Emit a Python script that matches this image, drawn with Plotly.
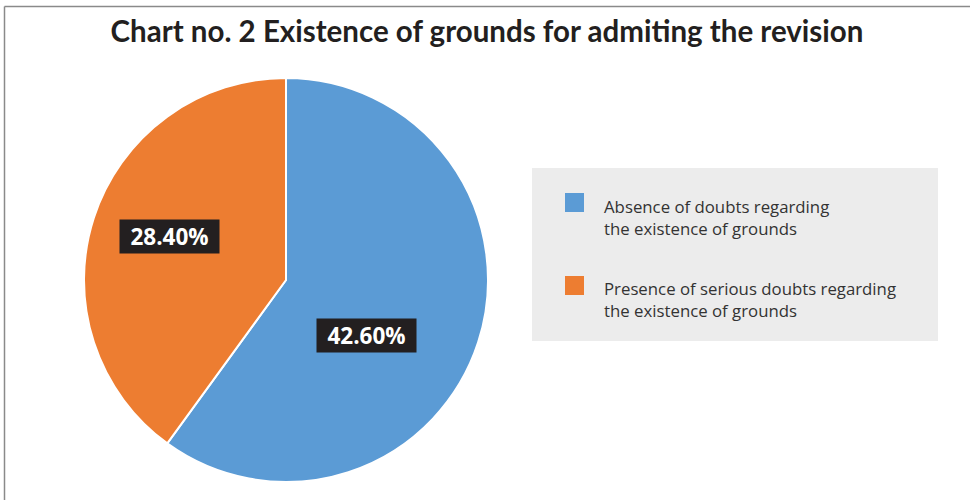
import plotly.graph_objects as go

# ---- data ----
labels = ["Absence of doubts regarding<br>the existence of grounds",
          "Presence of serious doubts regarding<br>the existence of grounds"]
values = [42.6, 28.4]
colors = ["#5b9bd5", "#ed7d31"]
title_text = "Chart no. 2 Existence of grounds for admiting the revision"

W, H = 970, 500

def px(x):
    return x / W

def py(y):
    return 1 - y / H

fig = go.Figure()
fig.add_trace(go.Pie(
    labels=labels,
    values=values,
    sort=False,
    direction="clockwise",
    rotation=0,
    textinfo="none",
    hoverinfo="label+value",
    marker=dict(colors=colors, line=dict(color="white", width=2)),
    domain=dict(x=[px(84), px(488)], y=[py(483), py(77)]),
    showlegend=False,
))

# data labels (dark boxes)
label_pos = [(366.5, 335), (169.5, 236.5)]
annotations = []
for v, (lx, ly) in zip(values, label_pos):
    annotations.append(dict(
        x=px(lx), y=py(ly), xref="paper", yref="paper",
        text=f"<b>{v:.2f}%</b>", showarrow=False,
        font=dict(family="Open Sans", size=22.5, color="white"),
        bgcolor="#231f20", borderpad=0, width=99, height=33,
        xanchor="center", yanchor="middle",
    ))

# legend (background, swatches, texts)
shapes = [
    dict(type="rect", xref="paper", yref="paper",
         x0=px(532), x1=px(938), y0=py(341), y1=py(168),
         fillcolor="#ececec", line=dict(width=0), layer="below"),
    # frame lines
    dict(type="line", xref="paper", yref="paper",
         x0=px(4.5), x1=1, y0=py(6.5), y1=py(6.5),
         line=dict(color="#8a8a8a", width=1.5)),
    dict(type="line", xref="paper", yref="paper",
         x0=px(4.5), x1=px(4.5), y0=py(6.5), y1=0,
         line=dict(color="#8a8a8a", width=1.5)),
]
leg_rows = [(193, 217.5), (276, 299.5)]
for lab, col, (sq_top, txt_c) in zip(labels, colors, leg_rows):
    shapes.append(dict(type="rect", xref="paper", yref="paper",
                       x0=px(565), x1=px(584), y0=py(sq_top + 19), y1=py(sq_top),
                       fillcolor=col, line=dict(width=0)))
    annotations.append(dict(
        x=px(602), y=py(txt_c), xref="paper", yref="paper",
        text=lab, showarrow=False, align="left",
        font=dict(family="Open Sans", size=16.8, color="#333333"),
        xanchor="left", yanchor="middle",
    ))

fig.update_layout(
    width=W, height=H,
    margin=dict(l=0, r=0, t=0, b=0),
    paper_bgcolor="white", plot_bgcolor="white",
    title=dict(text=f"<b>{title_text}</b>", x=px(487), y=py(32),
               xanchor="center", yanchor="middle",
               font=dict(family="Lato", size=29.5, color="#231f20")),
    shapes=shapes,
    annotations=annotations,
)

fig.write_html("out.html")
